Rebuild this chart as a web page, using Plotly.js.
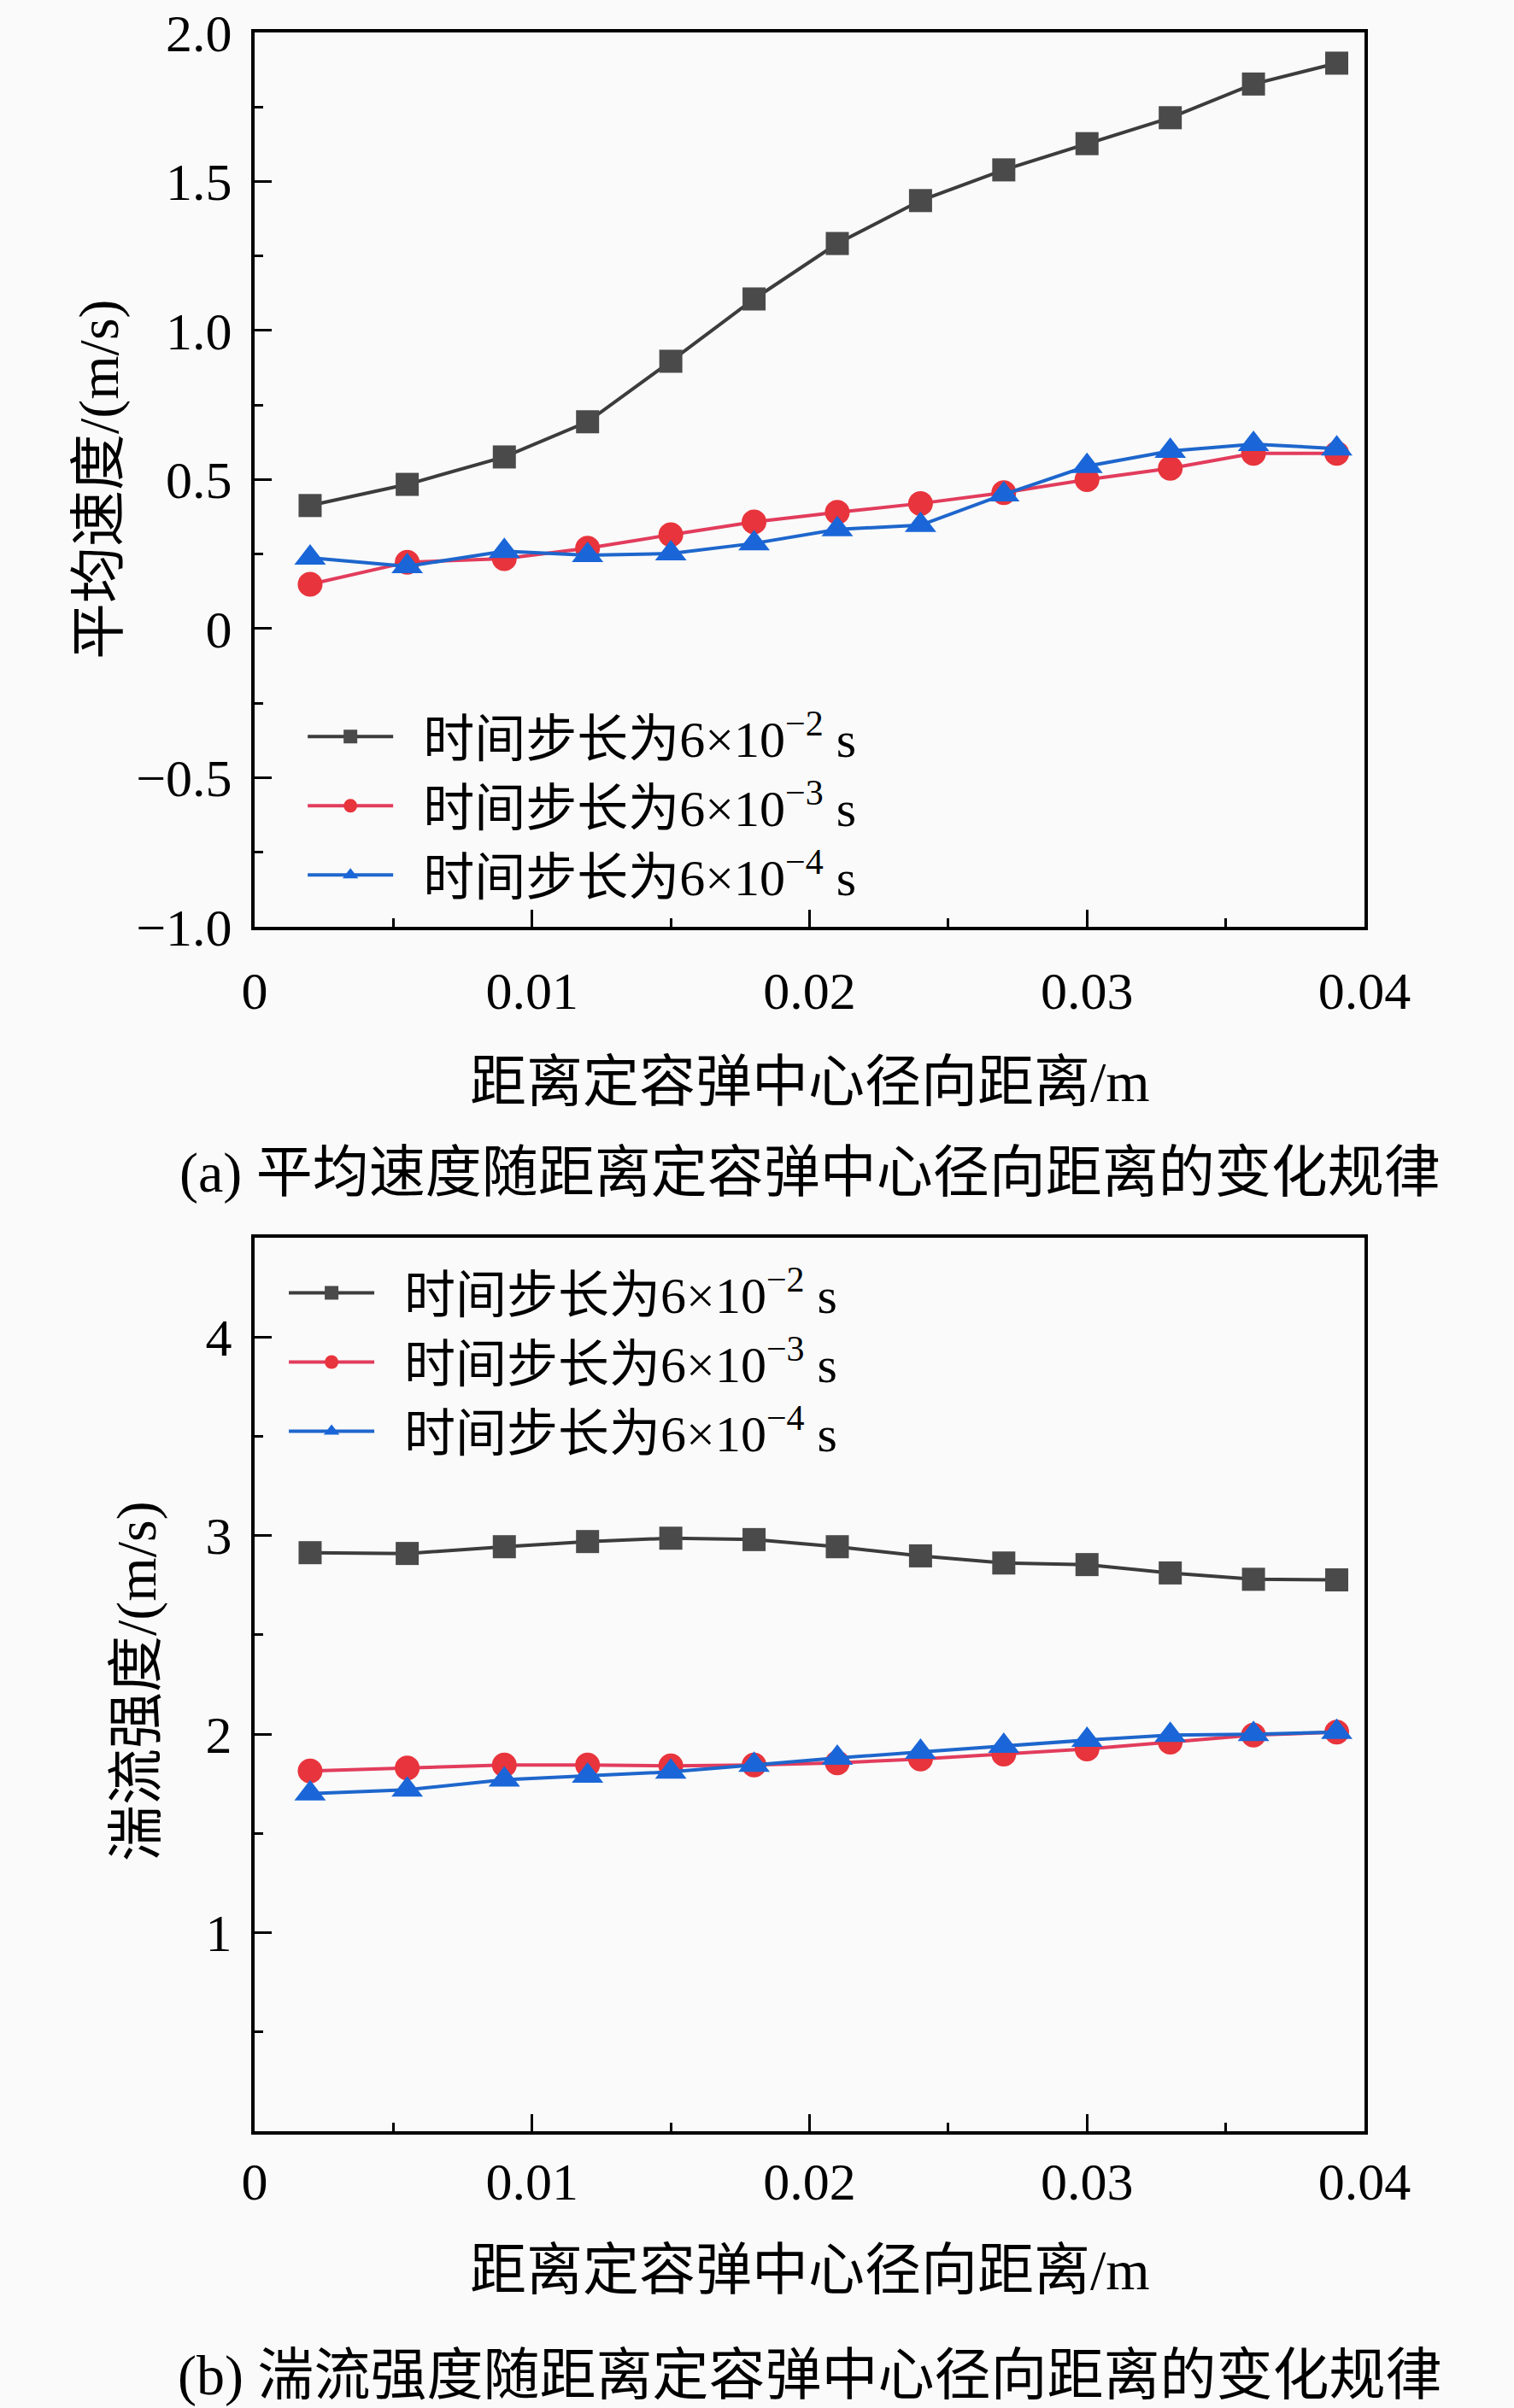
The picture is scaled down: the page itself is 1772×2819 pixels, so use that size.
<!DOCTYPE html>
<html>
<head>
<meta charset="utf-8">
<script src="https://cdn.plot.ly/plotly-3.0.1.min.js"></script>
<style>
  body { margin: 0; background: #fafafa; }
</style>
</head>
<body>
<div id="plot"></div>
<script>
// radial distance from the bomb centre (m), shared by both panels
//
const radial_x = [0.002, 0.0055, 0.009, 0.012, 0.015, 0.018, 0.021,
                  0.024, 0.027, 0.030, 0.033, 0.036, 0.039];

// panel (a): mean velocity (m/s) for each time step
//
const velocity_dt2 = [0.413, 0.484, 0.576, 0.694, 0.897, 1.106, 1.292,
                      1.436, 1.539, 1.627, 1.714, 1.827, 1.897];
const velocity_dt3 = [0.149, 0.223, 0.235, 0.270, 0.315, 0.358, 0.390,
                      0.420, 0.456, 0.500, 0.538, 0.588, 0.588];
const velocity_dt4 = [0.238, 0.209, 0.260, 0.246, 0.252, 0.286, 0.333,
                      0.347, 0.450, 0.545, 0.596, 0.619, 0.604];

// panel (b): turbulence intensity (m/s) for each time step
//
const intensity_dt2 = [2.914, 2.910, 2.944, 2.970, 2.987, 2.980, 2.944,
                       2.898, 2.862, 2.854, 2.812, 2.780, 2.777];
const intensity_dt3 = [1.815, 1.830, 1.845, 1.845, 1.840, 1.845, 1.855,
                       1.875, 1.900, 1.925, 1.960, 1.995, 2.010];
const intensity_dt4 = [1.700, 1.720, 1.770, 1.790, 1.810, 1.845, 1.880,
                       1.910, 1.940, 1.970, 1.995, 2.000, 2.010];

// legend names and tick labels
// (the en space keeps the gap between legend line and text)
//
const series_names = ['\u2002时间步长为6×10<sup>−2</sup> s',
                      '\u2002时间步长为6×10<sup>−3</sup> s',
                      '\u2002时间步长为6×10<sup>−4</sup> s'];
const x_tick_vals = [0, 0.01, 0.02, 0.03, 0.04];
const x_tick_text = ['0', '0.01', '0.02', '0.03', '0.04'];
const vel_tick_vals = [-1, -0.5, 0, 0.5, 1, 1.5, 2];
const vel_tick_text = ['−1.0', '−0.5', '0', '0.5', '1.0', '1.5', '2.0'];
const int_tick_vals = [1, 2, 3, 4];
const int_tick_text = ['1', '2', '3', '4'];

// text labels
//
const x_title = '距离定容弹中心径向距离/m';
const vel_title = '平均速度/(m/s)';
const int_title = '湍流强度/(m/s)';
const caption_a = '(a) 平均速度随距离定容弹中心径向距离的变化规律';
const caption_b = '(b) 湍流强度随距离定容弹中心径向距离的变化规律';

const FONT = '"Liberation Serif", "Noto Sans CJK SC", serif';

// one style per time step: marker symbol, marker colour, line colour
//
const styles = [
  { symbol: 'square', size: 27, marker: '#4a4a4a', line: '#3c3c3c' },
  { symbol: 'circle', size: 29, marker: '#e8343c', line: '#e23c5c' },
  { symbol: 'triangle-up', size: 32, marker: '#1a66d8', line: '#1e66cc' }
];

function make_trace(y, i, xaxis, yaxis, legend) {
  /*
  function: make_trace

  description:
   builds one line+marker trace for a time step on the given axes.
  */
  const s = styles[i];
  return {
    x: radial_x,
    y: y,
    xaxis: xaxis,
    yaxis: yaxis,
    legend: legend,
    name: series_names[i],
    type: 'scatter',
    mode: 'lines+markers',
    line: { color: s.line, width: 4 },
    marker: { symbol: s.symbol, size: s.size, color: s.marker,
              line: { width: 0 } },
    hoverinfo: 'none'
  };
}

// build the traces for both panels
//
const plot_data = [
  make_trace(velocity_dt2, 0, 'x', 'y', 'legend'),
  make_trace(velocity_dt3, 1, 'x', 'y', 'legend'),
  make_trace(velocity_dt4, 2, 'x', 'y', 'legend'),
  make_trace(intensity_dt2, 0, 'x2', 'y2', 'legend2'),
  make_trace(intensity_dt3, 1, 'x2', 'y2', 'legend2'),
  make_trace(intensity_dt4, 2, 'x2', 'y2', 'legend2')
];

// axis templates
//
function x_axis(anchor, standoff) {
  return {
    anchor: anchor,
    range: [0, 0.04],
    tickmode: 'array',
    tickvals: x_tick_vals,
    ticktext: x_tick_text,
    ticks: 'inside',
    ticklen: 20,
    tickwidth: 3,
    tickcolor: '#000',
    ticklabelstandoff: standoff,
    minor: { dtick: 0.005, tick0: 0, ticks: 'inside', ticklen: 10,
             tickwidth: 3, tickcolor: '#000' },
    showline: true,
    mirror: true,
    linewidth: 4,
    linecolor: '#000',
    showgrid: false,
    zeroline: false,
    tickfont: { family: FONT, size: 62, color: '#000' }
  };
}

function y_axis(domain, range, vals, text, minor_dtick) {
  return {
    domain: domain,
    range: range,
    tickmode: 'array',
    tickvals: vals,
    ticktext: text,
    ticks: 'inside',
    ticklen: 20,
    tickwidth: 3,
    tickcolor: '#000',
    ticklabelstandoff: 10,
    minor: { dtick: minor_dtick, tick0: 0, ticks: 'inside', ticklen: 10,
             tickwidth: 3, tickcolor: '#000' },
    showline: true,
    mirror: true,
    linewidth: 4,
    linecolor: '#000',
    showgrid: false,
    zeroline: false,
    tickfont: { family: FONT, size: 62, color: '#000' }
  };
}

function legend_box(x, y) {
  return {
    x: x,
    y: y,
    xanchor: 'left',
    yanchor: 'top',
    bgcolor: 'rgba(0,0,0,0)',
    borderwidth: 0,
    itemwidth: 100,
    tracegroupgap: 0,
    font: { family: FONT, size: 60, color: '#000' }
  };
}

function text_note(text, x, y, size, angle) {
  return {
    text: text,
    xref: 'paper',
    yref: 'paper',
    x: x,
    y: y,
    xanchor: 'center',
    yanchor: 'middle',
    showarrow: false,
    textangle: angle,
    font: { family: FONT, size: size, color: '#000' }
  };
}

const layout = {
  width: 1772,
  height: 2819,
  paper_bgcolor: '#fafafa',
  plot_bgcolor: '#fafafa',
  margin: { l: 298, r: 175, t: 38, b: 324 },
  showlegend: true,
  xaxis: x_axis('y', 18),
  yaxis: y_axis([0.5739, 1], [-1, 2], vel_tick_vals, vel_tick_text, 0.25),
  xaxis2: x_axis('y2', 2),
  yaxis2: y_axis([0, 0.4257], [0, 4.5], int_tick_vals, int_tick_text, 0.5),
  legend: legend_box(0.044, 0.683),
  legend2: legend_box(0.027, 0.418),
  annotations: [
    text_note(x_title, 0.5, 0.4998, 66, 0),
    text_note(caption_a, 0.5, 0.4566, 66, 0),
    text_note(vel_title, -0.1401, 0.7871, 66, -90),
    text_note(x_title, 0.5, -0.0663, 66, 0),
    text_note(caption_b, 0.5, -0.1164, 66, 0),
    text_note(int_title, -0.1062, 0.2145, 66, -90)
  ]
};

Plotly.newPlot('plot', plot_data, layout, { staticPlot: true, displayModeBar: false });
</script>
</body>
</html>
